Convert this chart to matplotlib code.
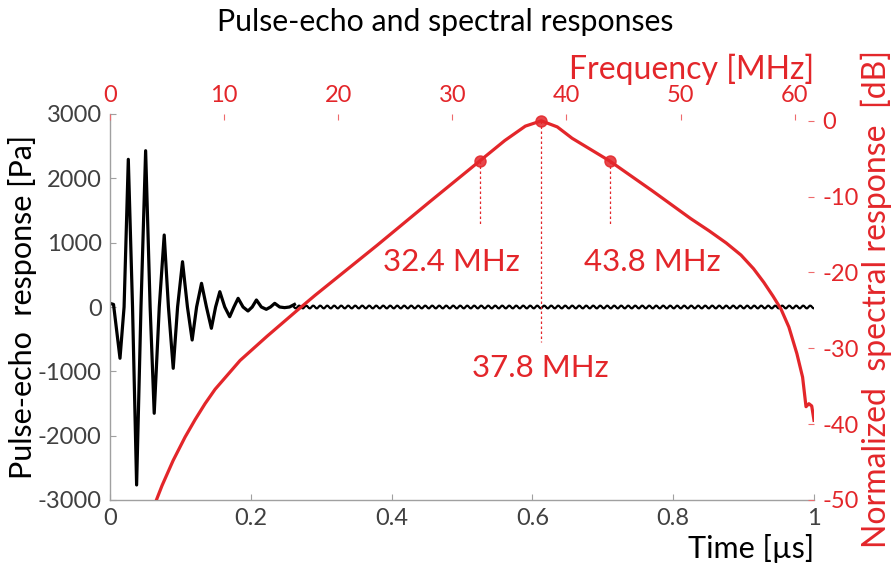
import matplotlib
matplotlib.use('Agg')
import matplotlib.pyplot as plt

plt.rcParams['font.family'] = ['Lato', 'DejaVu Sans']
plt.rcParams['axes.unicode_minus'] = False

RED = '#E3262A'
RED_AX = '#EE6A6C'
GREY = '#A0A0A0'
TXT = '#404040'

## pulse-echo waveform: time [us] and pressure [Pa] (extrema + zero crossings)
pulse_t = [0.000, 0.005, 0.0142, 0.020, 0.026, 0.032, 0.0378, 0.044, 0.0506, 0.057,
           0.0628, 0.070, 0.077, 0.083, 0.0898, 0.096, 0.103, 0.110, 0.1167, 0.123,
           0.130, 0.137, 0.144, 0.150, 0.156, 0.163, 0.170, 0.176, 0.182, 0.189,
           0.196, 0.202, 0.208, 0.215, 0.222, 0.228, 0.234, 0.241, 0.248, 0.255, 0.262]
pulse_p = [57, 40, -797, 0, 2295, 0, -2766, 0, 2429, 0,
           -1652, 0, 1119, 0, -953, 0, 704, 0, -513, 0,
           368, 0, -331, 0, 238, 0, -151, 0, 135, 0,
           -62, 0, 109, 0, -36, 0, 57, 0, -10, 0, 40]
## low level ringing that follows the pulse
tail_t = [0.262, 1.0]
tail_p = [0, 0]

## normalized spectrum: frequency [MHz] and level [dB]
spec_f = [4.04, 4.56, 5.53, 6.58, 7.46, 8.33, 9.21, 11.40, 13.77, 16.40,
          17.98, 23.42, 28.0, 32.4, 34.6, 36.4, 37.8, 39.2, 40.5, 43.8,
          47.5, 50.9, 52.5, 54.0, 55.3, 56.4, 57.3, 58.1, 58.8, 59.5,
          60.2, 60.7, 61.0, 61.25, 61.5, 61.7]
spec_db = [-50.1, -48.1, -44.8, -41.7, -39.4, -37.3, -35.4, -31.6, -28.4, -25.0,
           -23.0, -16.4, -10.7, -5.3, -2.6, -0.7, 0.0, -0.8, -2.3, -5.3,
           -9.2, -12.9, -14.5, -16.1, -17.7, -19.5, -21.3, -23.1, -24.8, -27.2,
           -30.7, -33.8, -37.7, -37.3, -37.6, -39.5]

## band edges and centre frequency
mark_f = [32.4, 37.8, 43.8]
mark_db = [-5.3, 0.0, -5.3]
mark_end = [-13.9, -29.2, -13.9]   # bottom of the dotted drop lines
mark_txt = ['32.4 MHz', '37.8 MHz', '43.8 MHz']

fig = plt.figure(figsize=(8.96, 5.70), dpi=100)
rect = [110/896, 1-500/570, (814-110)/896, (500-114)/570]
ax = fig.add_axes(rect)
axf = fig.add_axes(rect, frameon=False)

# --- pulse-echo (bottom / left)
ax.plot(pulse_t, pulse_p, color='black', lw=2.3, solid_joinstyle='round')
tail, = ax.plot(tail_t, tail_p, color='black', lw=1.6)
tail.set_sketch_params(scale=1.4, length=7, randomness=1)
ax.set_xlim(0, 1)
ax.set_ylim(-3000, 3000)
ax.set_xticks([0, 0.2, 0.4, 0.6, 0.8, 1])
ax.set_xticklabels(['0', '0.2', '0.4', '0.6', '0.8', '1'])
ax.set_yticks([-3000, -2000, -1000, 0, 1000, 2000, 3000])
ax.tick_params(direction='in', length=4, width=0.8, color=GREY, labelcolor=TXT,
               labelsize=17, pad=6)
for s in ['top', 'right']:
    ax.spines[s].set_visible(False)
for s in ['left', 'bottom']:
    ax.spines[s].set_color(GREY)
    ax.spines[s].set_linewidth(1.0)
ax.set_ylabel('Pulse-echo  response [Pa]', fontsize=22, color='black')
ax.yaxis.set_label_coords(-0.104, 0.5)
ax.set_xlabel('Time [µs]', fontsize=22, color='black', loc='right')
ax.xaxis.set_label_coords(1.0, -0.088)

# --- spectrum (top / right)
axf.plot(spec_f, spec_db, color=RED, lw=2.3, zorder=3)
axf.plot(mark_f, mark_db, 'o', color=RED, ms=8, alpha=0.85, clip_on=False, zorder=4)
for f, d0, d1 in zip(mark_f, mark_db, mark_end):
    axf.plot([f, f], [d0, d1], color=RED, lw=0.9, ls=(0, (2, 2)), zorder=2)
axf.text(29.9, -18.6, mark_txt[0], color=RED, fontsize=22.5, ha='center', va='center')
axf.text(37.7, -32.6, mark_txt[1], color=RED, fontsize=22.5, ha='center', va='center')
axf.text(47.5, -18.6, mark_txt[2], color=RED, fontsize=22.5, ha='center', va='center')
axf.set_xlim(0, 61.7)
axf.set_ylim(-50, 0.9)
axf.xaxis.tick_top()
axf.yaxis.tick_right()
axf.set_xticks([0, 10, 20, 30, 40, 50, 60])
axf.set_yticks([-50, -40, -30, -20, -10, 0])
axf.tick_params(direction='in', length=4, width=0.8, color=RED_AX, labelcolor=RED,
                labelsize=17, pad=6)
for s in ['top', 'right']:
    axf.spines[s].set_visible(True)
    axf.spines[s].set_color(RED_AX)
    axf.spines[s].set_linewidth(1.0)
for s in ['left', 'bottom']:
    axf.spines[s].set_visible(False)
axf.xaxis.set_label_position('top')
axf.yaxis.set_label_position('right')
axf.set_xlabel('Frequency [MHz]', fontsize=23, color=RED, loc='right')
axf.xaxis.set_label_coords(1.0, 1.09)
axf.set_ylabel('Normalized  spectral response  [dB]', fontsize=23, color=RED)
axf.yaxis.set_label_coords(1.066, 0.52)

fig.text(0.497, 1-22/570, 'Pulse-echo and spectral responses', fontsize=21.8,
         color='black', ha='center', va='center')

fig.savefig('out.png', dpi=100)
